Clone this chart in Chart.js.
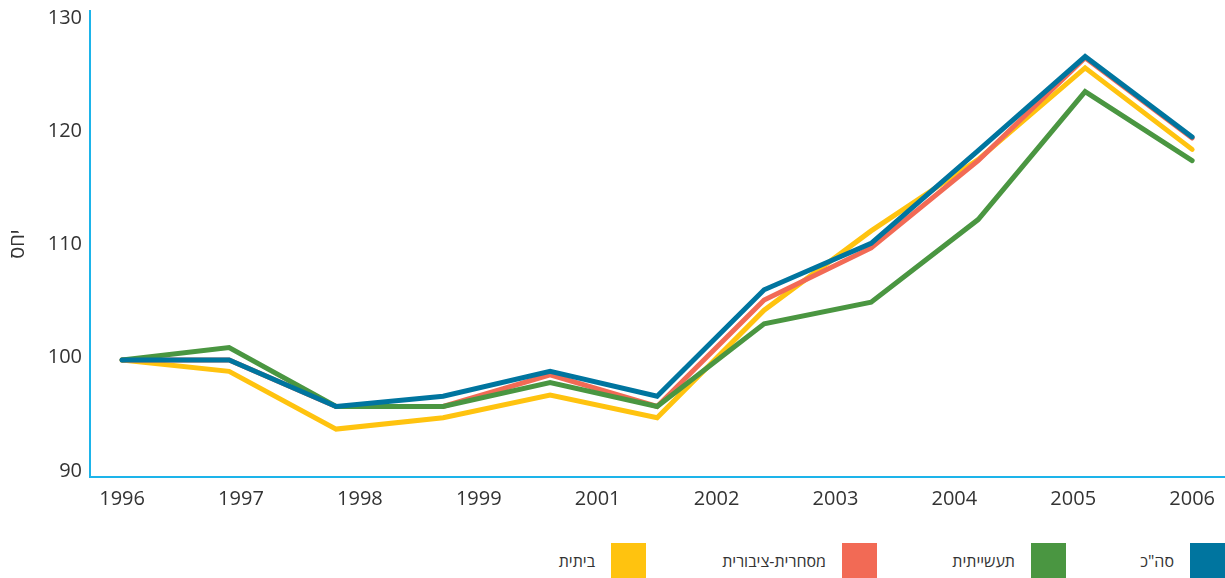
<!DOCTYPE html>
<html>
  <head>
    <script src="https://cdn.jsdelivr.net/npm/chart.js@4.4.0/dist/chart.umd.min.js"></script>
    <style>
      body {
        margin: 0;
        width: 1225px;
        height: 578px;
        overflow: hidden;
        background: #fff;
        font-family: "Open Sans", sans-serif;
      }
      .chart-container {
        position: absolute;
        left: 0;
        top: -9px;
        width: 1225px;
        height: 529px;
      }
      .legend-item {
        position: absolute;
        top: 543px;
        height: 35px;
        display: flex;
        align-items: center;
        direction: rtl;
        font-size: 16px;
        color: #333;
      }
      .legend-box {
        width: 35px;
        height: 35px;
        margin-left: 16px;
      }
    </style>
  </head>
  <body>
    <div class="chart-container">
      <canvas id="lineChart"></canvas>
    </div>
    <div id="legend"></div>

    <script>
      // x tick labels (note: no 2000 in the original)
      const years = ['1996', '1997', '1998', '1999', '2001', '2002', '2003', '2004', '2005', '2006'];

      // series values, 11 points each
      const totalValues      = [99.8, 99.8, 95.7, 96.6, 98.8, 96.6, 106.0, 110.1, 118.3, 126.6, 119.5];
      const industrialValues = [99.8, 100.9, 95.7, 95.7, 97.8, 95.7, 103.0, 104.9, 112.2, 123.5, 117.4];
      const commercialValues = [99.8, 99.8, 95.7, 95.7, 98.5, 95.7, 105.1, 109.7, 117.4, 126.5, 119.4];
      const householdValues  = [99.8, 98.8, 93.7, 94.7, 96.7, 94.7, 104.2, 111.2, 117.5, 125.6, 118.4];

      const yTicks = [90, 100, 110, 120, 130];

      const seriesNames = ['סה"כ', 'תעשייתית', 'מסחרית-ציבורית', 'ביתית'];
      const seriesColors = ['#00759f', '#4a9641', '#f26a55', '#ffc30f'];

      function toPoints(values) {
        return values.map((v, i) => ({ x: i, y: v }));
      }

      function makeDataset(label, values, color) {
        return {
          label: label,
          data: toPoints(values),
          borderColor: color,
          backgroundColor: color,
          borderWidth: 5,
          borderCapStyle: 'round',
          borderJoinStyle: 'miter',
          pointRadius: 0,
          tension: 0,
          fill: false
        };
      }

      const axisColor = '#1db4ea';
      const tickFont = { family: 'Open Sans', size: 20 };

      const ctx = document.getElementById('lineChart').getContext('2d');
      new Chart(ctx, {
        type: 'line',
        data: {
          // first dataset is drawn on top
          datasets: [
            makeDataset(seriesNames[0], totalValues, seriesColors[0]),
            makeDataset(seriesNames[1], industrialValues, seriesColors[1]),
            makeDataset(seriesNames[2], commercialValues, seriesColors[2]),
            makeDataset(seriesNames[3], householdValues, seriesColors[3])
          ]
        },
        options: {
          responsive: true,
          maintainAspectRatio: false,
          animation: false,
          layout: { padding: { top: 0, right: 0, left: 0, bottom: 0 } },
          plugins: {
            legend: { display: false },
            tooltip: { enabled: false }
          },
          scales: {
            x: {
              type: 'linear',
              min: -0.3,
              max: 10.3,
              grid: { display: false, drawTicks: false },
              border: { display: true, color: axisColor, width: 2 },
              afterBuildTicks: function(scale) {
                scale.ticks = years.map((y, i) => ({ value: i * 10 / 9 }));
              },
              afterFit: function(scale) {
                scale.height = 43;
              },
              ticks: {
                autoSkip: false,
                maxRotation: 0,
                padding: 10,
                color: '#333',
                font: tickFont,
                callback: function(value, index) {
                  return years[index];
                }
              }
            },
            y: {
              min: 89.47,
              max: 130.62,
              grid: { display: false, drawTicks: false },
              border: { display: true, color: axisColor, width: 2 },
              afterBuildTicks: function(scale) {
                scale.ticks = yTicks.map(v => ({ value: v }));
              },
              afterFit: function(scale) {
                scale.width = 90;
              },
              ticks: {
                padding: 8,
                color: '#333',
                font: tickFont
              },
              title: {
                display: true,
                text: 'יחס',
                color: '#333',
                font: { family: 'Open Sans', size: 20 },
                padding: { top: 6, bottom: 0 }
              }
            }
          }
        }
      });

      // custom legend, right to left
      const legendRight = [1225, 1066, 877, 646];
      const legend = document.getElementById('legend');
      seriesNames.forEach((name, i) => {
        const item = document.createElement('div');
        item.className = 'legend-item';
        item.style.right = (1225 - legendRight[i]) + 'px';
        const box = document.createElement('div');
        box.className = 'legend-box';
        box.style.background = seriesColors[i];
        const text = document.createElement('span');
        text.textContent = name;
        item.appendChild(box);
        item.appendChild(text);
        legend.appendChild(item);
      });
    </script>
  </body>
</html>
